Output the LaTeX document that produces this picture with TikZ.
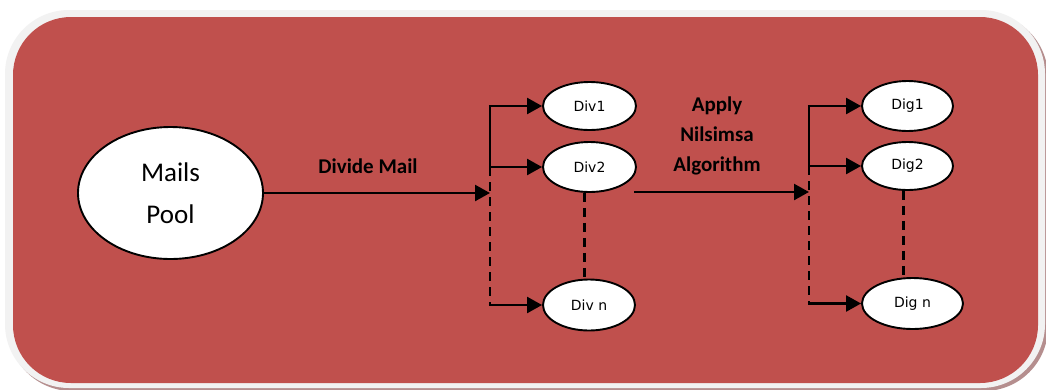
\documentclass[tikz,border=0pt]{standalone}
\usepackage{fontspec}
\setmainfont{Carlito}
\newfontfamily\labelfont{DejaVu Sans}
\usetikzlibrary{shapes.geometric,arrows.meta}
\definecolor{panelred}{HTML}{C0504D}
\definecolor{panelrim}{HTML}{F2F2F2}
\definecolor{panelshade}{HTML}{B58E8E}
\tikzset{
  oval/.style={ellipse, draw=black, line width=1.9pt, fill=white, inner sep=0pt},
  small/.style={oval, font=\labelfont\fontsize{14}{16}\selectfont},
  link/.style={line width=2.4pt, draw=black},
  arr/.style={link, -{Triangle[length=15pt,width=16pt]}},
  dash line/.style={link, dash pattern=on 9pt off 6pt},
  caption/.style={font=\fontsize{21}{30}\selectfont\bfseries, align=center}
}
\begin{document}
\begin{tikzpicture}[x=1pt,y=-1pt]
\useasboundingbox (0,0) rectangle (1046,389);
\fill[white] (0,0) rectangle (1046,389);
% panel: shadow, light rim, red body
\fill[panelshade, rounded corners=64pt] (8,13) rectangle (1048,391);
\fill[panelrim, rounded corners=64pt] (5,10) rectangle (1045,388);
\fill[panelred, rounded corners=58pt] (13,17) rectangle (1038,383);

% nodes
\node[oval, minimum width=185pt, minimum height=132pt,
      font=\fontsize{27}{42}\selectfont, align=center] (pool) at (170.5,193) {Mails\\Pool};
\node[small, minimum width=93pt, minimum height=48pt] (div1) at (589.5,106) {Div1};
\node[small, minimum width=93pt, minimum height=50pt] (div2) at (589.5,167) {Div2};
\node[small, minimum width=92pt, minimum height=51pt] (divn) at (589,305) {Div n};
\node[small, minimum width=91pt, minimum height=50pt] (dig1) at (907.5,106) {Dig1};
\node[small, minimum width=91pt, minimum height=48pt] (dig2) at (907.5,166) {Dig2};
\node[small, minimum width=101pt, minimum height=51pt] (dign) at (912.5,303.5) {Dig n};

% labels
\node[caption] (lbldiv) at (368,166) {Divide Mail};
\node[caption] (lblnil) at (717,136) {Apply\\Nilsimsa\\Algorithm};

% bus positions
\coordinate (busa) at (490,193);
\coordinate (busb) at (809,192);
\coordinate (start2) at (634,192);

% divide stage
\draw[arr] (pool.east) -- (busa);
\draw[link] (busa |- div2) -- ([yshift=-1.2pt]busa |- div1);
\draw[arr] ([xshift=-1.2pt]busa |- div1) -- (div1.west);
\draw[arr] (busa |- div2) -- (div2.west);
\draw[dash line] (busa |- div2) -- (busa |- divn);
\draw[arr] ([xshift=-1.2pt]busa |- divn) -- (divn.west);
\draw[dash line] ([xshift=-5pt]div2.south) -- ([xshift=-5pt]div2.south |- divn.north);

% digest stage
\draw[arr] (start2) -- (busb);
\draw[link] (busb |- dig2) -- ([yshift=-1.2pt]busb |- dig1);
\draw[arr] ([xshift=-1.2pt]busb |- dig1) -- (dig1.west);
\draw[arr] (busb |- dig2) -- (dig2.west);
\draw[dash line] (busb |- dig2) -- (busb |- dign);
\draw[arr] ([xshift=-1.2pt]busb |- dign) -- (dign.west);
\draw[dash line] ([xshift=-4pt]dig2.south) -- ([xshift=-4pt]dig2.south |- dign.north);
\end{tikzpicture}
\end{document}
